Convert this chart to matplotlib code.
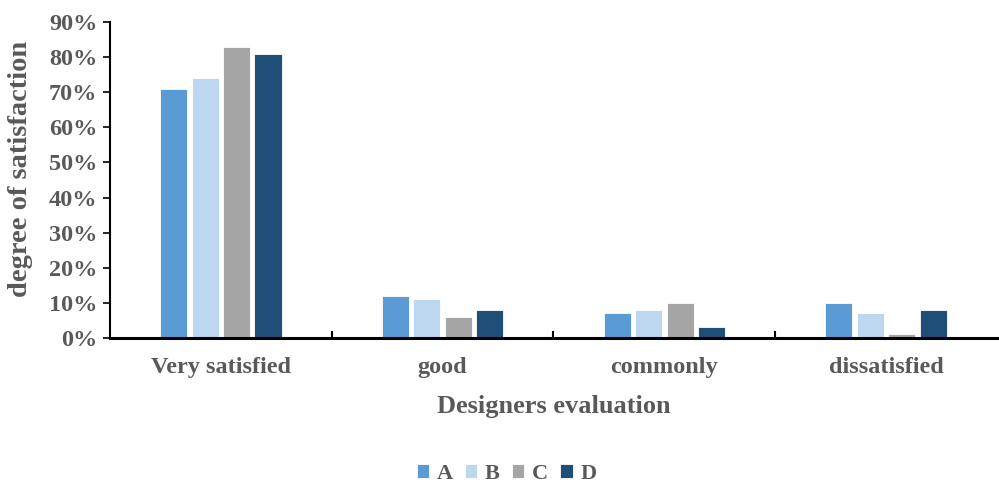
import matplotlib
matplotlib.use('Agg')
import matplotlib.pyplot as plt
from matplotlib.ticker import PercentFormatter
import numpy as np

categories = ['Very satisfied', 'good', 'commonly', 'dissatisfied']
series_names = ['A', 'B', 'C', 'D']
values_a = [71, 12, 7, 10]
values_b = [74, 11, 8, 7]
values_c = [83, 6, 10, 1]
values_d = [81, 8, 3, 8]
y_ticks = [0, 10, 20, 30, 40, 50, 60, 70, 80, 90]

colors = ['#5B9BD5', '#BDD7EE', '#A5A5A5', '#1F4E79']
text_grey = '#595959'

plt.rcParams['font.family'] = ['Liberation Serif', 'DejaVu Serif']
plt.rcParams['font.weight'] = 'bold'

fig = plt.figure(figsize=(9.99, 4.82), dpi=100)
ax = fig.add_axes([0.110, 0.299, 0.888, 0.655])

x = np.arange(len(categories))
width = 0.122
pitch = 0.142
series = [values_a, values_b, values_c, values_d]
for i, (name, vals) in enumerate(zip(series_names, series)):
    offset = (i - 1.5) * pitch
    ax.bar(x + offset, vals, width, label=name, color=colors[i],
           edgecolor='white', linewidth=0.6, zorder=2)

ax.set_xlim(-0.5, 3.5)
ax.set_ylim(0, 90)
ax.set_yticks(y_ticks)
ax.yaxis.set_major_formatter(PercentFormatter(decimals=0))
ax.set_xticks(x)
ax.set_xticklabels(categories)
ax.set_xticks([0.5, 1.5, 2.5], minor=True)

ax.tick_params(axis='y', direction='out', length=5, width=1.2, colors='black',
               labelcolor=text_grey, labelsize=17.5, pad=4)
ax.tick_params(axis='x', which='major', length=0, labelcolor=text_grey,
               labelsize=17.5, pad=14)
ax.tick_params(axis='x', which='minor', direction='in', length=5, width=1.5)

for lbl in ax.get_xticklabels() + ax.get_yticklabels():
    lbl.set_fontweight('bold')

for side in ['top', 'right']:
    ax.spines[side].set_visible(False)
ax.spines['left'].set_linewidth(1.5)
ax.spines['bottom'].set_linewidth(2.2)

ax.set_xlabel('Designers evaluation', fontsize=19, fontweight='bold',
              color=text_grey, labelpad=12)
ax.set_ylabel('degree of satisfaction', fontsize=20.5, fontweight='bold',
              color=text_grey)
ax.yaxis.set_label_coords(-0.087, 0.535)

leg = fig.legend(loc='lower center', ncol=4, bbox_to_anchor=(0.507, -0.045),
                 frameon=False, fontsize=16, handlelength=0.55, handleheight=0.55,
                 handletextpad=0.35, columnspacing=0.55)
for t in leg.get_texts():
    t.set_color(text_grey)
    t.set_fontweight('bold')

fig.savefig('out.png', dpi=100)
